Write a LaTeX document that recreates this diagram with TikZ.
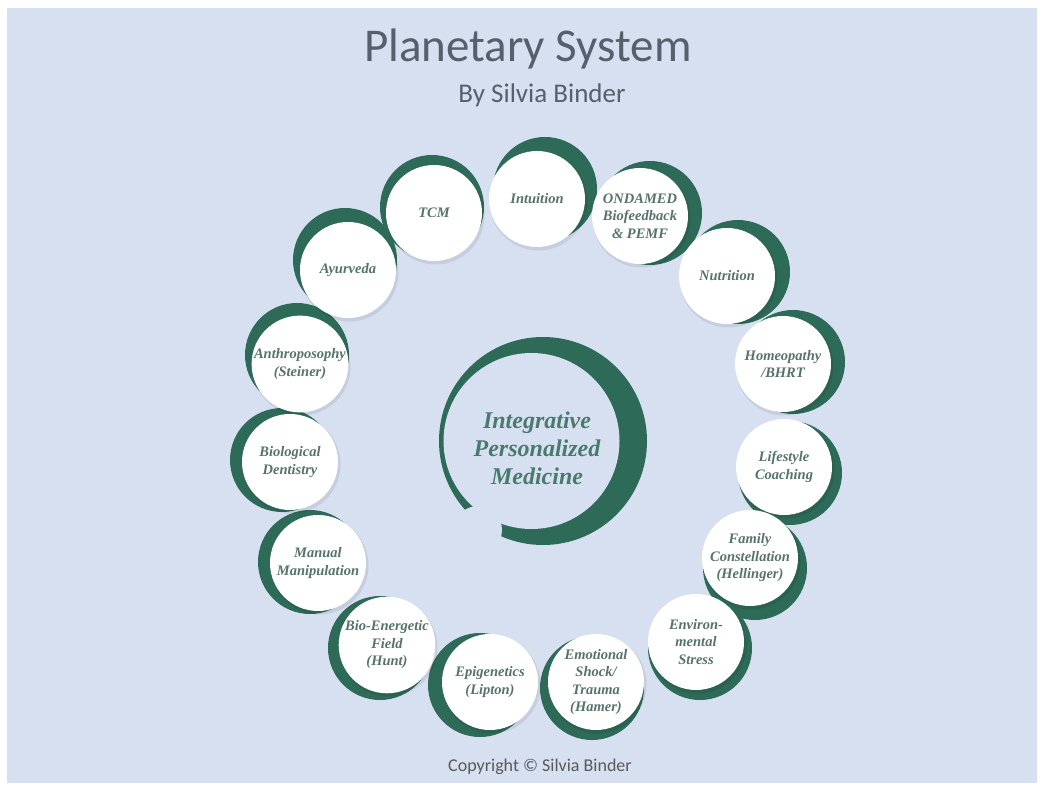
\documentclass[tikz,border=0pt]{standalone}
\usepackage{fontspec}
\setmainfont{Liberation Serif}
\newfontfamily\titlefont{Carlito}
\definecolor{bgblue}{HTML}{D6E0F1}
\definecolor{pgreen}{HTML}{2E6A58}
\definecolor{stext}{HTML}{56736B}
\definecolor{ctext}{HTML}{4A7A6C}
\definecolor{ttext}{HTML}{55606C}
\begin{document}
\begin{tikzpicture}[x=1pt,y=-1pt,
  greenball/.style={circle, fill=pgreen, minimum size=104pt, inner sep=0pt},
  shadowball/.style={circle, fill=black, opacity=0.08, minimum size=98pt, inner sep=0pt},
  whiteball/.style={circle, fill=white, minimum size=96pt, inner sep=0pt, align=center,
    font=\bfseries\itshape\fontsize{14.5}{17.5}\selectfont, text=stext},
  hubtext/.style={align=center, font=\bfseries\itshape\fontsize{24}{28}\selectfont, text=ctext},
  titletext/.style={anchor=base, text=ttext, inner sep=0pt}]
\useasboundingbox (0,0) rectangle (1044,791);
\fill[white] (0,0) rectangle (1044,791);
\fill[bgblue] (7,8) rectangle (1037,783);

\node[titletext, font=\titlefont\fontsize{47}{50}\selectfont] (title) at (528,62) {Planetary System};
\node[titletext, font=\titlefont\fontsize{27}{30}\selectfont] (subtitle) at (542,103) {By Silvia Binder};
\node[titletext, font=\titlefont\fontsize{18}{20}\selectfont, text=black!65] (copyright) at (540,771) {Copyright © Silvia Binder};

% central crescent
\fill[pgreen] (543,441) circle[radius=104pt];
\fill[bgblue] (531.5,441) circle[radius=88pt];
\fill[bgblue] (478,530) circle[radius=24pt];
\node[hubtext] (hub) at (537,448) {Integrative\\Personalized\\Medicine};

\def\sats{intuition/537/199/8/-10/{Intuition},
ondamed/640/216/10/-3/{ONDAMED\\Biofeedback\\\& PEMF},
nutrition/727/276/11/-4/{Nutrition},
homeopathy/783/364/10/-2/{Homeopathy\\/BHRT},
lifestyle/784/467/6/6/{Lifestyle\\Coaching},
family/750/558/5/10/{Family\\Constellation\\(Hellinger)},
environ/696/642/4/6/{Environ-\\mental\\Stress},
emotional/596/682/-4/6/{Emotional\\Shock/\\Trauma\\(Hamer)},
epigen/490/682/-10/3/{Epigenetics\\(Lipton)},
bioenerg/387/645/-7/3/{Bio-Energetic\\Field\\(Hunt)},
manual/318/563/-8/-1/{Manual\\Manipulation},
dentistry/290/462/-8/-2/{Biological\\Dentistry},
anthro/300/364/-3/-9/{Anthroposophy\\(Steiner)},
ayurveda/348/270/-3/-10/{Ayurveda},
tcm/434/213/-2/-6/{TCM}}

\foreach \n/\x/\y/\dx/\dy/\t in \sats {
  \node[greenball] (\n-g) at (\x+\dx,\y+\dy) {};
}
\foreach \n/\x/\y/\dx/\dy/\t in \sats {
  \node[shadowball] (\n-s) at (\x+1.5,\y+2.5) {};
}
\foreach \n/\x/\y/\dx/\dy/\t in \sats {
  \node[whiteball] (\n) at (\x,\y) {\t};
}
\end{tikzpicture}
\end{document}
